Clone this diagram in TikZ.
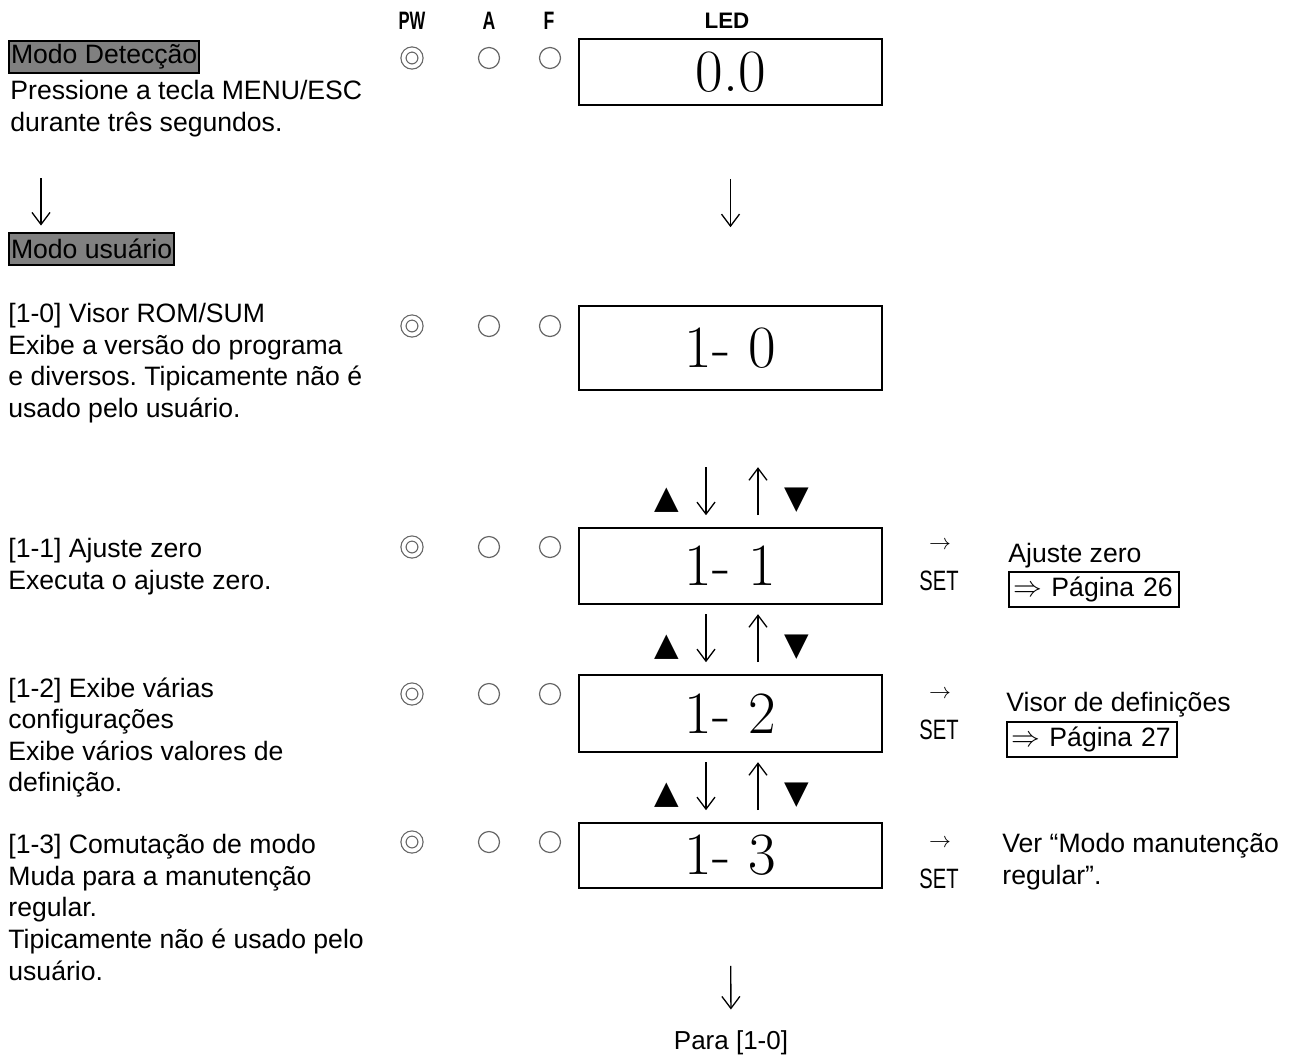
\documentclass[tikz,border=0pt]{standalone}
\usepackage{fontspec}
\setsansfont{Liberation Sans}
\newfontfamily\symfont{DejaVu Sans}
\usepackage{graphicx}
\usetikzlibrary{
    arrows.meta,
    calc,
    positioning
}
\newcommand{\cond}[2][0.64]{\scalebox{#1}[1]{#2}}
\frenchspacing

\begin{document}
\begin{tikzpicture}[x=0.5pt, y=-0.5pt,
    txt/.style={inner sep=0pt, align=left, font=\sffamily\fontsize{13.3}{15.8}\selectfont},
    hl/.style={txt, draw, line width=1pt, fill=black!50, minimum height=16pt, inner xsep=1pt},
    pg/.style={txt, draw, line width=0.8pt, minimum height=17.5pt, text width=80pt, inner xsep=2.5pt},
    lcd/.style={draw, line width=0.8pt, minimum width=151.5pt, inner sep=0pt, font=\rmfamily\fontsize{30}{30}\selectfont},
    head/.style={inner sep=0pt, font=\sffamily\bfseries\fontsize{12.6}{12.6}\selectfont},
    led/.style={circle, draw=black!60, line width=0.6pt, minimum size=10.5pt, inner sep=0pt},
    ledon/.style={led, minimum size=8.5pt, double, double distance=1.9pt},
    flow/.style={-{Straight Barb[length=6pt, width=9pt]}, line width=0.65pt},
    tri/.style={inner sep=0pt, font=\symfont\fontsize{16}{16}\selectfont},
    setkey/.style={inner sep=0pt, font=\sffamily\fontsize{14}{14}\selectfont},
    ]
    \useasboundingbox (0,0) rectangle (1296,1057);

    \node[head] (hpw) at (412,21) {\cond[0.66]{PW}};
    \node[head] (ha) at (489,21) {\cond[0.7]{A}};
    \node[head] (hf) at (549,21) {\cond[0.7]{F}};
    \node[head, font=\sffamily\bfseries\fontsize{11.2}{11.2}\selectfont] (hled) at (727,21) {LED};

    \foreach \r/\y in {0/58, 1/326, 2/547, 3/694, 4/842} {
        \node[ledon] (pw\r) at (412,\y) {};
        \node[led] (a\r) at (489,\y) {};
        \node[led] (f\r) at (550,\y) {};
    }

    \node[lcd, minimum height=33pt] (b00) at (730.5,72) {0.0};
    \node[lcd, minimum height=42pt] (b10) at (730.5,348) {1- 0};
    \node[lcd, minimum height=38pt] (b11) at (730.5,566) {1- 1};
    \node[lcd, minimum height=38.5pt] (b12) at (730.5,713.5) {1- 2};
    \node[lcd, minimum height=32.5pt] (b13) at (730.5,855.5) {1- 3};
    \node[txt, font=\sffamily\fontsize{13}{13}\selectfont] (para) at (731,1043) {Para [1-0]};

    \node[hl, anchor=west] (det) at (8,57) {Modo Detecção};
    \node[txt, anchor=north west] (press) at (10,80) {Pressione a tecla MENU/ESC\\durante três segundos.};
    \node[hl, anchor=west] (usr) at (8,248.5) {Modo usuário};
    \coordinate (dl) at (41,178);

    \node[txt, anchor=north west] (i10) at (8,303) {[1-0] Visor ROM/SUM\\Exibe a versão do programa\\e diversos. Tipicamente não é\\usado pelo usuário.};
    \node[txt, anchor=north west] (i11) at (8,538) {[1-1] Ajuste zero\\Executa o ajuste zero.};
    \node[txt, anchor=north west] (i12) at (8,677) {[1-2] Exibe várias\\configurações\\Exibe vários valores de\\definição.};
    \node[txt, anchor=north west] (i13) at (8,834) {[1-3] Comutação de modo\\Muda para a manutenção\\regular.\\Tipicamente não é usado pelo\\usuário.};

    \foreach \r/\y in {1/545, 2/694, 3/843} {
        \node[inner sep=0pt, font=\fontsize{11}{11}\selectfont] (ar\r) at (940,\y) {$\rightarrow$};
        \node[setkey] (set\r) at (939,\y+36) {\cond[0.72]{SET}};
    }
    \node[txt, anchor=base west] (az) at (1008,562) {Ajuste zero};
    \node[pg, anchor=west] (pg26) at (1008,589.5) {$\Rightarrow$ Página 26};
    \node[txt, anchor=base west] (vd) at (1006,711) {Visor de definições};
    \node[pg, anchor=west] (pg27) at (1006,739.5) {$\Rightarrow$ Página 27};
    \node[txt, anchor=north west] (ver) at (1002,833) {Ver “Modo manutenção\\regular”.};

    \draw[flow, shorten >=3pt] (dl) -- (dl |- usr.north);
    \draw[flow, shorten <=36.5pt, shorten >=39pt] (b00) -- (b10);
    \foreach \b in {b11, b12, b13} {
        \draw[flow] ([xshift=-12.25pt, yshift=30pt]\b.north) -- ([xshift=-12.25pt, yshift=6pt]\b.north);
        \draw[flow] ([xshift=13.75pt, yshift=6pt]\b.north) -- ([xshift=13.75pt, yshift=30pt]\b.north);
        \node[tri] (up\b) at ([xshift=-31.75pt, yshift=13.5pt]\b.north) {▲};
        \node[tri] (dn\b) at ([xshift=33.25pt, yshift=13.5pt]\b.north) {▼};
    }
    \draw[flow, shorten <=38.5pt, shorten >=10.5pt] (b13) -- (para);
\end{tikzpicture}
\end{document}
